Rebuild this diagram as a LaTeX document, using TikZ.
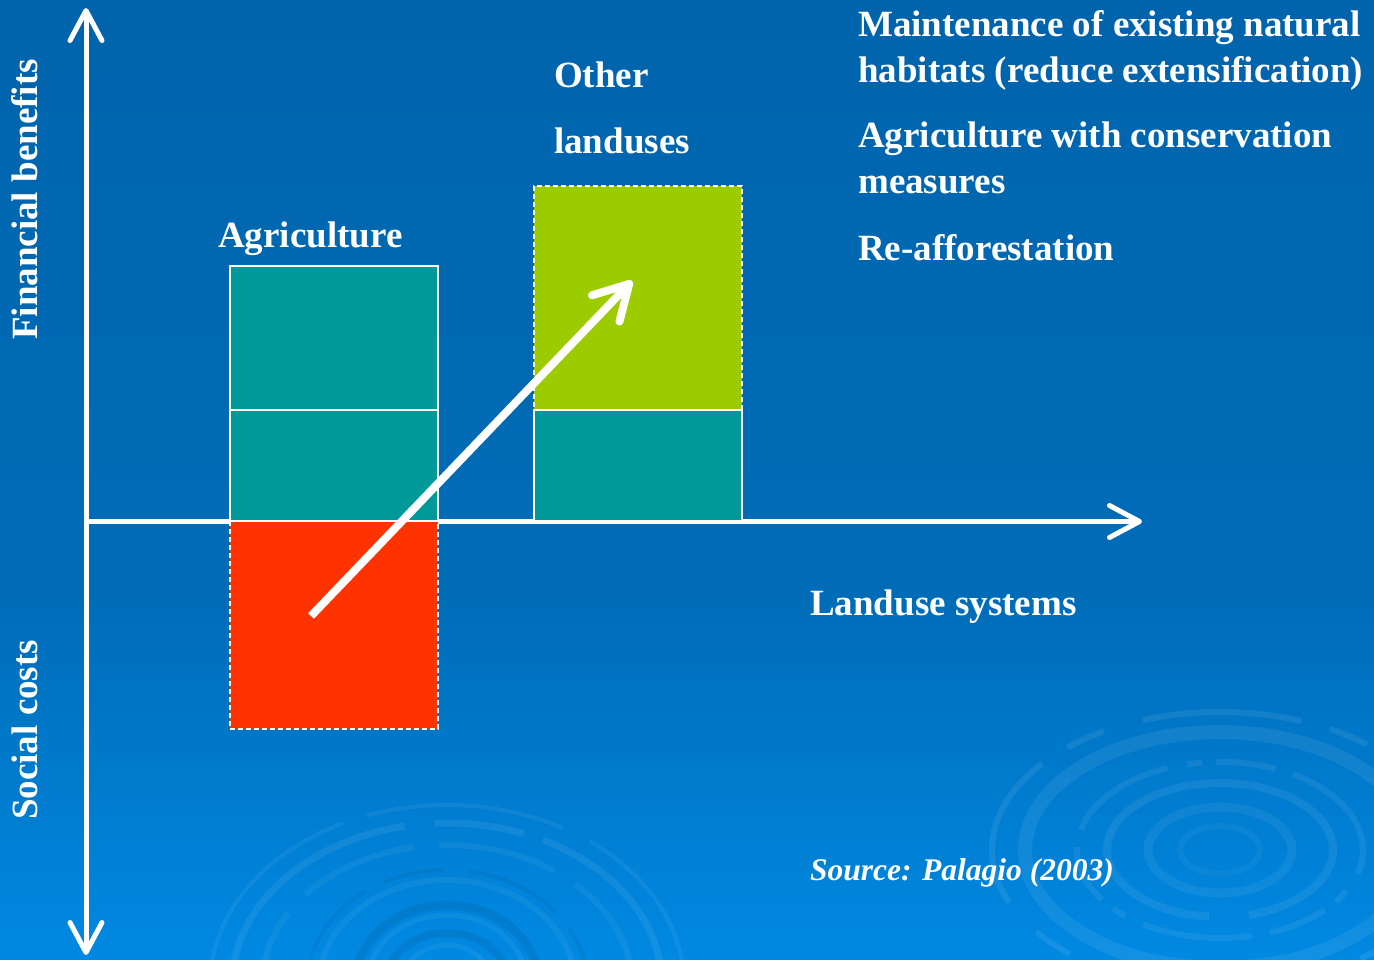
\documentclass[tikz,border=0pt]{standalone}
\usepackage{fontspec}
\setmainfont{Liberation Serif}
\usetikzlibrary{arrows.meta}

\definecolor{bgtop}{RGB}{0,100,172}
\definecolor{bgmid}{RGB}{0,108,184}
\definecolor{bgbot}{RGB}{0,137,226}
\definecolor{tealbox}{RGB}{0,153,153}
\definecolor{limebox}{RGB}{156,204,0}
\definecolor{redbox}{RGB}{255,51,0}

% only the 25bp--75bp band of a vertical shading covers the filled path
\pgfdeclareverticalshading{slideshade}{100bp}{%
  color(0bp)=(bgbot); color(25bp)=(bgbot); color(44bp)=(bgmid);
  color(75bp)=(bgtop); color(100bp)=(bgtop)}

\tikzset{
  axtip/.tip={Straight Barb[length=30pt, width=32pt, round]},
  lbl/.style={text=white, inner sep=0pt, font=\fontsize{37}{40}\selectfont\bfseries},
  srclbl/.style={text=white, inner sep=0pt, font=\fontsize{31.5}{36}\selectfont\bfseries\itshape},
  cell/.style={draw=white, line width=2pt, minimum width=208pt, inner sep=0pt,
    outer sep=0pt, anchor=north west},
  tealcell/.style={cell, fill=tealbox},
  dashcell/.style={cell, dash pattern=on 5pt off 3pt},
  axisline/.style={draw=white, line width=5pt},
  shiftarrow/.style={draw=white, line width=8pt,
    -{Straight Barb[length=34pt, width=38pt, round]}},
  ripple/.style={draw=white, opacity=#1},
  shadow/.style={draw=black, opacity=#1},
}

\begin{document}
\begin{tikzpicture}[x=1pt, y=-1pt]
  \useasboundingbox (0,0) rectangle (1374,959);
  \shade[shading=slideshade] (0,0) rectangle (1374,959);

  % water ripples in the background
  \begin{scope}
    \clip (0,0) rectangle (1374,959);
    % right group
    \draw[ripple=0.06, line width=9pt] (1220,850) ellipse [x radius=72pt, y radius=43pt];
    \draw[ripple=0.04, line width=6pt] (1220,850) ellipse [x radius=40pt, y radius=24pt];
    \draw[ripple=0.07, line width=8pt, dash pattern=on 420pt off 40pt] (1220,850) ellipse [x radius=113pt, y radius=67pt];
    \draw[ripple=0.07, line width=6pt, dash pattern=on 110pt off 18pt on 60pt off 14pt on 15pt off 20pt] (1220,850) ellipse [x radius=143pt, y radius=88pt];
    \draw[ripple=0.07, line width=14pt] (1220,850) ellipse [x radius=195pt, y radius=118pt];
    \draw[ripple=0.08, line width=6pt, dash pattern=on 160pt off 40pt on 40pt off 30pt, dash phase=60pt] (1220,850) ellipse [x radius=228pt, y radius=138pt];
    % lower group
    \draw[ripple=0.06, line width=4pt, dash pattern=on 300pt off 30pt on 200pt off 25pt, dash phase=120pt] (447,985) ellipse [x radius=237pt, y radius=180pt];
    \draw[ripple=0.07, line width=7pt, dash pattern=on 240pt off 20pt on 90pt off 30pt, dash phase=40pt] (447,985) ellipse [x radius=215pt, y radius=162pt];
    \draw[ripple=0.05, line width=6pt, dash pattern=on 120pt off 25pt] (447,985) ellipse [x radius=185pt, y radius=140pt];
    \draw[shadow=0.05, line width=4pt, dash pattern=on 60pt off 20pt on 100pt off 25pt] (447,985) ellipse [x radius=140pt, y radius=115pt];
    \draw[ripple=0.05, line width=6pt] (447,985) ellipse [x radius=128pt, y radius=105pt];
    \draw[shadow=0.07, line width=9pt] (447,985) ellipse [x radius=92pt, y radius=80pt];
    \draw[ripple=0.05, line width=5pt] (447,985) ellipse [x radius=80pt, y radius=70pt];
    \draw[shadow=0.07, line width=8pt] (447,985) ellipse [x radius=62pt, y radius=52pt];
    \draw[ripple=0.05, line width=5pt] (447,985) ellipse [x radius=45pt, y radius=40pt];
  \end{scope}

  % axes
  \coordinate (origin) at (86,521.5);
  \coordinate (ytop) at (86,8);
  \coordinate (ybot) at (86,955);
  \coordinate (xend) at (1142,521.5);
  \draw[axisline, axtip-axtip] (ybot) -- (ytop);
  \draw[axisline, -axtip] (origin) -- (xend);

  % land-use columns
  \node[dashcell, fill=redbox, minimum height=208pt] (agcost) at (230,521) {};
  \node[tealcell, minimum height=144pt] (agtop) at (230,266) {};
  \node[tealcell, minimum height=111pt] (agmid) at (230,410) {};
  \node[dashcell, fill=limebox, minimum height=224pt] (othtop) at (534,186) {};
  \node[tealcell, minimum height=111pt] (othmid) at (534,410) {};

  % shift from agriculture to other land uses
  \coordinate (shiftfrom) at (311,616);
  \coordinate (shiftto) at (632,281);
  \draw[shiftarrow] (shiftfrom) -- (shiftto);

  % labels
  \node[lbl, rotate=90, anchor=base west] (finlbl) at (37,340) {Financial benefits};
  \node[lbl, rotate=90, anchor=base west] (costlbl) at (37,820) {Social costs};
  \node[lbl, anchor=base west] (agrlbl) at (218,247) {Agriculture};
  \node[lbl, anchor=base west] (othlbl1) at (554,87) {Other};
  \node[lbl, anchor=base west] (othlbl2) at (554,153) {landuses};
  \node[lbl, anchor=base west] (opt1a) at (858,36) {Maintenance of existing natural};
  \node[lbl, anchor=base west] (opt1b) at (858,82) {habitats (reduce extensification)};
  \node[lbl, anchor=base west] (opt2a) at (858,147) {Agriculture with conservation};
  \node[lbl, anchor=base west] (opt2b) at (858,193) {measures};
  \node[lbl, anchor=base west] (opt3) at (858,260) {Re-afforestation};
  \node[lbl, anchor=base west] (xlbl) at (810,615) {Landuse systems};
  \node[srclbl, anchor=base west] (srclbl) at (810,880) {Source: Palagio (2003)};
\end{tikzpicture}
\end{document}
